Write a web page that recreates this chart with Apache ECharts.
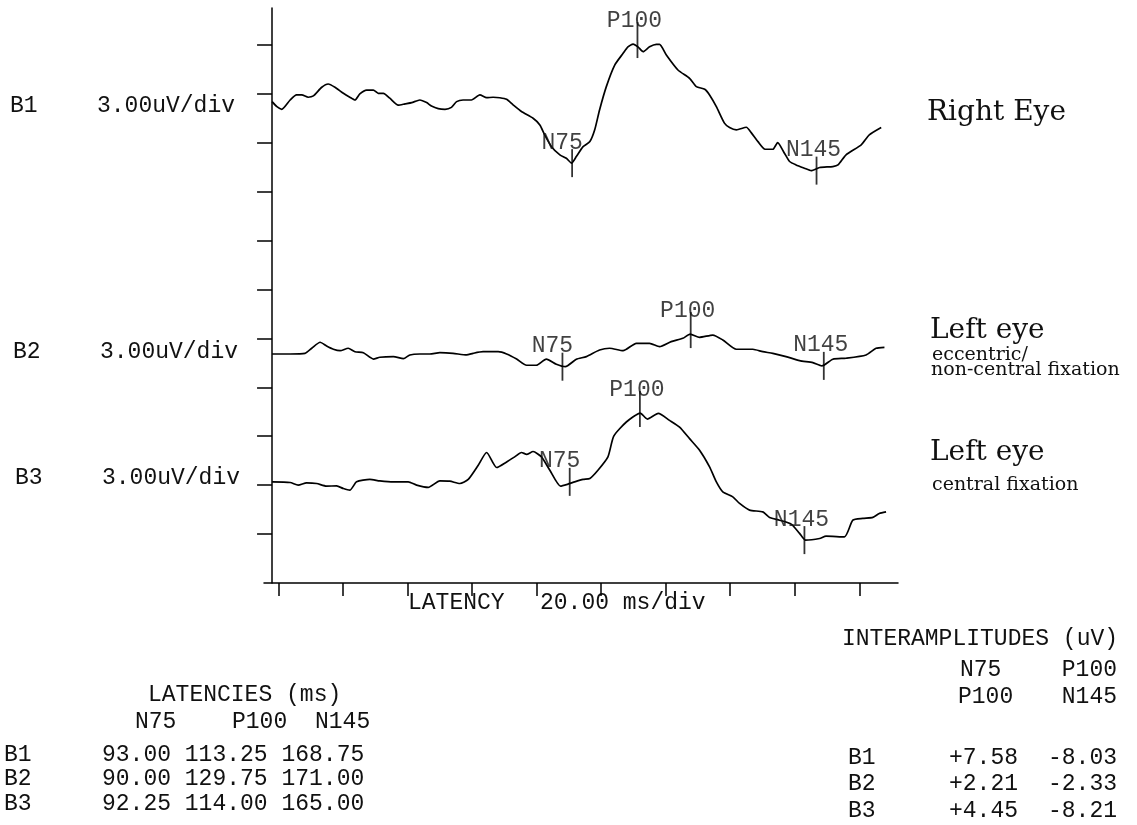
<!DOCTYPE html>
<html>
<head>
<meta charset="utf-8">
<title>VEP latencies</title>
<script src="https://cdn.jsdelivr.net/npm/echarts@6.0.0/dist/echarts.min.js"></script>
<style>
  html, body { margin: 0; padding: 0; background: #fff; }
  #chart { width: 1137px; height: 825px; }
</style>
</head>
<body>
<div id="chart"></div>
<script>
const channels = ['B1', 'B2', 'B3']
const peakNames = ['N75', 'P100', 'N145']

// LATENCIES (ms)
const latB1 = [93.00, 113.25, 168.75]
const latB2 = [90.00, 129.75, 171.00]
const latB3 = [92.25, 114.00, 165.00]

// INTERAMPLITUDES (uV)
const ampN75P100 = [7.58, 2.21, 4.45]
const ampP100N145 = [-8.03, -2.33, -8.21]

// amplitude at the peak markers, uV
const peakAmpB1 = [-3.81, 3.49, -4.27]
const peakAmpB2 = [-0.78, 1.22, -0.73]
const peakAmpB3 = [0.02, 4.24, -3.55]

// traces, [latency ms, amplitude uV]
const traceB1 = [
  [0, -0.04], [1.5, -0.35], [3.0, -0.51], [5.6, 0.06], [7.6, 0.37], [9.2, 0.37], [11.2, 0.23], [12.8, 0.31],
  [15.4, 0.84], [17.4, 1.04], [19.5, 0.84], [22.1, 0.47], [24.1, 0.23], [25.7, 0.06], [27.2, 0.43], [29.3, 0.67],
  [31.4, 0.67], [32.9, 0.47], [34.5, 0.47], [36.5, 0.17], [39.1, -0.26], [41.2, -0.18], [43.3, -0.10], [45.8, 0.06],
  [47.9, -0.10], [49.4, -0.31], [51.5, -0.47], [53.6, -0.51], [55.6, -0.39], [57.2, -0.04], [59.2, 0.06], [61.8, 0.06],
  [64.4, 0.37], [66.5, 0.20], [68.5, 0.23], [70.6, 0.20], [72.7, 0.10], [74.7, -0.24], [77.3, -0.65], [80.9, -1.06],
  [83.0, -1.47], [84.5, -2.08], [86.6, -2.80], [89.2, -3.30], [91.2, -3.51], [92.8, -3.81], [94.3, -3.41], [96.4, -2.80],
  [98.5, -2.49], [100.0, -1.77], [101.5, -0.55], [103.6, 0.88], [106.2, 2.20], [108.8, 2.92], [110.3, 3.32], [111.9, 3.49],
  [113.4, 3.32], [115.0, 3.02], [117.0, 3.32], [119.1, 3.47], [120.1, 3.47], [122.2, 2.82], [125.8, 1.90], [129.4, 1.39],
  [131.5, 0.88], [134.1, 0.72], [135.6, 0.37], [137.7, -0.35], [140.2, -1.36], [141.8, -1.63], [143.9, -1.77], [147.0, -1.61],
  [148.5, -1.94], [150.6, -2.49], [152.8, -2.96], [155.2, -2.96], [156.7, -2.55], [158.8, -3.20], [160.4, -3.71], [162.4, -3.92],
  [165.0, -4.12], [167.1, -4.27], [169.7, -4.08], [173.8, -4.02], [175.4, -3.92], [177.9, -3.30], [182.6, -2.69], [185.1, -2.08],
  [188.8, -1.63]
]
const traceB2 = [
  [0, 0], [5.6, 0], [10.2, 0.04], [12.3, 0.35], [14.9, 0.72], [16.9, 0.49], [19.0, 0.29], [21.1, 0.20],
  [23.6, 0.35], [25.7, 0.14], [28.3, 0.08], [31.4, -0.31], [33.4, -0.20], [37.6, -0.16], [40.7, -0.29], [42.7, -0.06],
  [45.8, 0], [48.9, 0], [52.0, 0.08], [56.1, 0.04], [60.3, -0.06], [62.3, 0.04], [65.4, 0.14], [70.1, 0.14],
  [72.7, 0], [75.8, -0.31], [78.9, -0.69], [81.9, -0.69], [85.0, -0.31], [88.1, -0.63], [90.9, -0.78], [94.3, -0.32],
  [97.4, -0.16], [101.5, 0.24], [104.6, 0.35], [108.8, 0.20], [112.9, 0.65], [117.0, 0.65], [120.1, 0.45], [123.7, 0.76],
  [127.3, 0.96], [129.6, 1.22], [132.5, 1.02], [136.6, 1.16], [139.7, 0.86], [143.9, 0.29], [149.0, 0.29], [152.1, 0.14],
  [155.2, 0.04], [159.3, -0.16], [163.5, -0.41], [167.6, -0.53], [170.4, -0.73], [173.8, -0.32], [177.9, -0.26], [184.1, -0.06],
  [187.2, 0.35], [189.8, 0.41]
]
const traceB3 = [
  [0, 0.02], [5.6, -0.02], [8.1, -0.18], [10.7, -0.04], [13.8, -0.08], [16.9, -0.24], [20.0, -0.23], [22.1, -0.39],
  [24.1, -0.49], [26.2, 0.02], [30.3, 0.17], [33.4, 0.08], [37.6, 0.02], [42.2, 0.02], [44.8, -0.18], [48.4, -0.32],
  [52.0, 0.08], [55.1, 0.06], [58.2, -0.08], [60.8, 0.17], [63.9, 1.04], [66.5, 1.82], [69.6, 0.90], [72.7, 1.24],
  [75.2, 1.55], [77.3, 1.82], [78.9, 1.71], [80.9, 1.88], [83.5, 1.55], [86.1, 0.73], [89.4, -0.24], [91.7, -0.12],
  [93.8, 0.02], [96.4, 0.17], [98.5, 0.23], [101.0, 0.73], [104.1, 1.55], [105.9, 2.82], [109.8, 3.69], [114.1, 4.24],
  [116.3, 3.87], [119.7, 4.22], [123.2, 3.79], [126.3, 3.38], [129.4, 2.67], [132.5, 1.96], [135.6, 0.94], [137.7, 0.02],
  [139.7, -0.59], [142.8, -0.90], [144.9, -1.30], [148.0, -1.71], [152.1, -1.82], [154.2, -2.16], [157.3, -2.33], [160.9, -2.57],
  [163.5, -3.14], [165.3, -3.55], [169.7, -3.45], [171.7, -3.31], [177.4, -3.35], [180.0, -2.33], [183.1, -2.22], [186.2, -2.16],
  [188.2, -1.92], [190.3, -1.82]
]

// axis ticks: latency in ms, amplitude in divisions
const xTicks = [2, 22, 42, 62, 82, 102, 122, 142, 162, 182]
const yTicks = [1, 2, 3, 4, 5, 6, 7, 8, 9, 10, 11]
const uvPerDiv = 3.00
const msPerDiv = 20.00

// where each trace sits, in divisions above the latency axis
const baseB1 = 9.85
const baseB2 = 4.68
const baseB3 = 2.06

const MONO_FAMILY = '"Liberation Mono", monospace'
const MONO = '23px ' + MONO_FAMILY
const INK = '#111'

function toDiv(trace, base) {
  return trace.map(p => [p[0], base + p[1] / uvPerDiv])
}

const labelDx = [-10, -3, -3]
function markers(lat, amp, base) {
  return lat.map((t, i) => {
    const isP = peakNames[i][0] === 'P'
    return {
      name: peakNames[i],
      value: [t, base + amp[i] / uvPerDiv],
      symbolSize: isP ? [1.8, 36] : [1.8, 28],
      symbolOffset: isP ? [0, -4] : [0, 0],
      label: { offset: [labelDx[i], isP ? 10 : 5] }
    }
  })
}

function traceSeries(name, data) {
  return {
    name: name,
    type: 'line',
    data: data,
    showSymbol: false,
    smooth: 0.2,
    lineStyle: { color: '#000', width: 1.7 },
    silent: true
  }
}
function markerSeries(name, data) {
  return {
    name: name + ' peaks',
    type: 'scatter',
    symbol: 'rect',
    data: data,
    itemStyle: { color: '#000' },
    label: {
      show: true, position: 'top', distance: 0, formatter: '{b}',
      fontFamily: MONO_FAMILY, fontSize: 23, color: INK
    },
    silent: true,
    z: 3
  }
}

function txt(x, y, s, font, align) {
  return {
    type: 'text',
    x: x, y: y,
    style: {
      text: s, font: font || MONO, fill: INK,
      align: align || 'left', verticalAlign: 'middle',
      textAlign: align || 'left', textVerticalAlign: 'middle'
    },
    silent: true
  }
}

const fmt = v => v.toFixed(2)
const sgn = v => (v > 0 ? '+' : '-') + Math.abs(v).toFixed(2)
const lats = [latB1, latB2, latB3]

const texts = [
  // channel labels beside the traces
  txt(10, 106, channels[0]), txt(97, 106, uvPerDiv.toFixed(2) + 'uV/div'),
  txt(13, 352, channels[1]), txt(100, 352, uvPerDiv.toFixed(2) + 'uV/div'),
  txt(15, 478, channels[2]), txt(102, 478, uvPerDiv.toFixed(2) + 'uV/div'),
  // latency axis name
  txt(408, 603, 'LATENCY'), txt(540, 603, msPerDiv.toFixed(2) + ' ms/div'),
  // eye captions
  txt(927, 113, 'Right Eye', '28px "DejaVu Serif", serif'),
  txt(930, 331, 'Left eye', '28px "DejaVu Serif", serif'),
  txt(932, 355, 'eccentric/', '19px "DejaVu Serif", serif'),
  txt(931, 370, 'non-central fixation', '19px "DejaVu Serif", serif'),
  txt(930, 453, 'Left eye', '28px "DejaVu Serif", serif'),
  txt(932, 485, 'central fixation', '19px "DejaVu Serif", serif'),
  // latencies table
  txt(148, 695, 'LATENCIES (ms)'),
  txt(135, 722, peakNames[0]), txt(232, 722, peakNames[1]), txt(315, 722, peakNames[2]),
  // interamplitudes table
  txt(842, 639, 'INTERAMPLITUDES (uV)'),
  txt(960, 670, peakNames[0]), txt(1117, 670, peakNames[1], null, 'right'),
  txt(958, 697, peakNames[1]), txt(1117, 697, peakNames[2], null, 'right')
]
const latRowY = [755, 779, 804]
const ampRowY = [758, 784, 811]
channels.forEach((c, i) => {
  texts.push(txt(4, latRowY[i], c))
  texts.push(txt(102, latRowY[i], lats[i].map(fmt).join(' ')))
  texts.push(txt(848, ampRowY[i], c))
  texts.push(txt(1018, ampRowY[i], sgn(ampN75P100[i]), null, 'right'))
  texts.push(txt(1117, ampRowY[i], sgn(ampP100N145[i]), null, 'right'))
})

const chart = echarts.init(document.getElementById('chart'))
const axisLineStyle = { color: '#000', width: 1.5 }
chart.setOption({
  backgroundColor: '#fff',
  animation: false,
  grid: { left: 264, right: 239, top: 8, bottom: 242 },
  xAxis: {
    type: 'value',
    min: -2.5,
    max: 194,
    axisLine: { show: true, onZero: true, lineStyle: axisLineStyle },
    axisTick: { show: true, customValues: xTicks, length: 13, lineStyle: axisLineStyle },
    axisLabel: { show: false },
    splitLine: { show: false }
  },
  yAxis: {
    type: 'value',
    min: 0,
    max: 11.75,
    axisLine: { show: true, onZero: true, lineStyle: axisLineStyle },
    axisTick: { show: true, customValues: yTicks, length: 15, lineStyle: axisLineStyle },
    axisLabel: { show: false },
    splitLine: { show: false }
  },
  series: [
    traceSeries('B1', toDiv(traceB1, baseB1)),
    traceSeries('B2', toDiv(traceB2, baseB2)),
    traceSeries('B3', toDiv(traceB3, baseB3)),
    markerSeries('B1', markers(latB1, peakAmpB1, baseB1)),
    markerSeries('B2', markers(latB2, peakAmpB2, baseB2)),
    markerSeries('B3', markers(latB3, peakAmpB3, baseB3))
  ],
  graphic: texts
})
</script>
</body>
</html>
